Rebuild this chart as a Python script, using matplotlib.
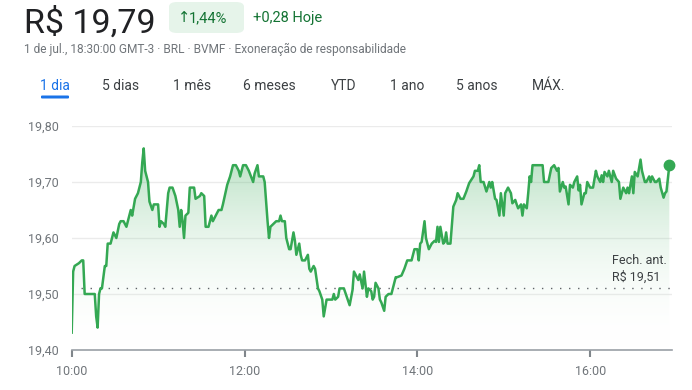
import matplotlib
matplotlib.use("Agg")
import matplotlib.pyplot as plt
import numpy as np
from matplotlib.colors import LinearSegmentedColormap

plt.rcParams['font.family'] = ['Roboto', 'DejaVu Sans']

# ---- data (minutes after 10:00, price in R$) ----
minutes = [0, 1, 2, 5, 7, 8, 9, 16, 17, 18, 19, 20, 21, 23, 24, 25, 27, 29, 31, 33, 34, 36, 38, 40, 41, 42,
           44, 46, 48, 49, 50, 51, 53, 54, 56, 57, 60, 61, 62, 64, 65, 67, 68, 70, 72, 74, 75, 76, 77, 78,
           79, 81, 82, 85, 86, 89, 90, 92, 93, 95, 97, 98, 100, 102, 104, 105, 108, 110, 112, 114, 116, 117,
           119, 121, 123, 126, 127, 129, 130, 133, 134, 136, 137, 138, 140, 142, 144, 145, 146, 148, 149,
           151, 152, 154, 155, 156, 158, 159, 160, 162, 164, 165, 166, 168, 169, 171, 172, 174, 175, 177,
           178, 181, 182, 183, 185, 186, 189, 191, 193,
           195, 196, 198, 199, 200, 202, 203, 205, 206, 208, 209, 210, 211, 213, 214, 215, 217, 218, 220,
           222, 223, 225, 226, 229, 231, 233, 236, 238, 240, 241, 242, 243, 245, 246, 248, 250, 252, 253,
           254, 255, 256, 258, 259, 260, 261, 263, 265, 267, 268, 270, 272, 274, 276, 279, 280, 282, 283,
           284, 286, 288, 290, 291, 292, 294, 295, 297, 298, 300, 301, 303, 305, 306, 308, 309, 310, 312,
           313, 314, 316, 317, 318, 319, 320, 327, 328, 331, 333, 335, 337, 338, 339, 341, 342, 343, 345,
           346, 348, 349, 351, 352, 353, 354, 356, 357, 358, 360, 362, 364, 365, 367, 368, 369, 370, 372,
           373, 375, 376, 378, 380, 381, 383, 385, 386, 387, 389, 390, 391, 393, 395, 396, 398, 399, 401,
           402, 403, 405, 406, 408, 409, 411, 412, 413, 415]
prices = [19.431, 19.54, 19.55, 19.555, 19.56, 19.56, 19.50, 19.50, 19.46, 19.44, 19.50, 19.51, 19.51, 19.55,
          19.55, 19.59, 19.59, 19.61, 19.60, 19.625, 19.63, 19.63, 19.62, 19.64, 19.65, 19.64,
          19.67, 19.68, 19.70, 19.735, 19.76, 19.72, 19.70, 19.665, 19.65, 19.66, 19.66, 19.62, 19.63,
          19.625, 19.62, 19.68, 19.69, 19.69, 19.675, 19.65, 19.62, 19.65, 19.63, 19.60,
          19.64, 19.645, 19.69, 19.69, 19.67, 19.675, 19.68, 19.675, 19.62, 19.62, 19.64, 19.63, 19.64,
          19.65, 19.65, 19.66, 19.695, 19.71, 19.73, 19.73, 19.72, 19.71,
          19.73, 19.73, 19.72, 19.70, 19.715, 19.73, 19.71, 19.71, 19.70, 19.63, 19.60, 19.62, 19.625,
          19.63, 19.63, 19.64, 19.63, 19.63, 19.60,
          19.58, 19.58, 19.61, 19.595, 19.57, 19.59, 19.57, 19.56, 19.56, 19.57, 19.545, 19.54, 19.55,
          19.545, 19.51, 19.505, 19.49, 19.46, 19.49,
          19.49, 19.49, 19.50, 19.49, 19.495, 19.51, 19.51, 19.495, 19.48,
          19.507, 19.54, 19.53, 19.525, 19.535, 19.51, 19.54, 19.495, 19.51, 19.505, 19.49, 19.495, 19.52,
          19.51, 19.49, 19.485, 19.47, 19.495, 19.50,
          19.50, 19.51, 19.53, 19.53, 19.533, 19.545, 19.56, 19.56, 19.58, 19.58, 19.56, 19.59, 19.593,
          19.63, 19.60, 19.58, 19.59, 19.595, 19.593,
          19.62, 19.593, 19.62, 19.59, 19.593, 19.61, 19.59, 19.59, 19.656, 19.668, 19.68, 19.67, 19.67,
          19.683, 19.698, 19.71, 19.72, 19.72, 19.73,
          19.70, 19.70, 19.683, 19.70, 19.69, 19.70, 19.67, 19.668, 19.64, 19.68, 19.64, 19.68, 19.69,
          19.68, 19.662, 19.668, 19.66, 19.653, 19.66,
          19.64, 19.66, 19.653, 19.68, 19.71, 19.70, 19.73, 19.73, 19.70, 19.70, 19.725, 19.73, 19.72,
          19.725, 19.683, 19.70, 19.69, 19.692, 19.66,
          19.695, 19.69, 19.70, 19.71, 19.685, 19.695, 19.66, 19.68, 19.68, 19.70, 19.69, 19.69, 19.72,
          19.71, 19.70, 19.712, 19.70, 19.718, 19.71,
          19.72, 19.70, 19.72, 19.706, 19.70, 19.67, 19.69, 19.68, 19.69, 19.68, 19.71, 19.68, 19.718,
          19.71, 19.74, 19.72, 19.70, 19.70, 19.71,
          19.70, 19.71, 19.70, 19.70, 19.706, 19.69, 19.672, 19.68, 19.683, 19.73]
prev_close = 19.51
y_ticks = [19.40, 19.50, 19.60, 19.70, 19.80]
y_tick_labels = ["19,40", "19,50", "19,60", "19,70", "19,80"]
x_ticks = [0, 120, 240, 360]
x_tick_labels = ["10:00", "12:00", "14:00", "16:00"]
tabs = ["1 dia", "5 dias", "1 mês", "6 meses", "YTD", "1 ano", "5 anos", "MÁX."]

W, H = 692, 390
fig = plt.figure(figsize=(W / 100, H / 100), dpi=100)
fig.patch.set_facecolor("white")

def fx(x):
    return x / W

def fy(y):
    return 1 - y / H

GREEN = "#34a853"
DARK_GREEN = "#137333"
GRAY = "#70757a"

# ---- header ----
fig.text(fx(24), fy(33), "R$ 19,79", fontsize=24.5, color="#202124", va="baseline", ha="left")
pill = matplotlib.patches.FancyBboxPatch((fx(169), fy(33)), fx(75), 31 / H,
                                         boxstyle="round,pad=0,rounding_size=0.012",
                                         transform=fig.transFigure, facecolor="#e6f4ea",
                                         edgecolor="none")
fig.add_artist(pill)
fig.text(fx(178), fy(18), "↑", fontsize=10.5, color=DARK_GREEN, va="center", ha="left",
         family=['DejaVu Sans'])
fig.text(fx(189), fy(18), "1,44%", fontsize=10.5, color=DARK_GREEN, va="center", ha="left")
fig.text(fx(253), fy(18), "+0,28 Hoje", fontsize=10.5, color=DARK_GREEN, va="center", ha="left")
fig.text(fx(24), fy(49), "1 de jul., 18:30:00 GMT-3 · BRL · BVMF · Exoneração de responsabilidade",
         fontsize=8.6, color=GRAY, va="center", ha="left")

tab_x = [40, 102, 173, 243, 331, 390, 456, 532]
for i, (t, x) in enumerate(zip(tabs, tab_x)):
    fig.text(fx(x), fy(86), t, fontsize=10, color="#1a73e8" if i == 0 else "#3c4043",
             va="center", ha="left")
fig.add_artist(matplotlib.patches.FancyBboxPatch((fx(41), fy(98.5)), fx(28), 3 / H,
                                                 boxstyle="round,pad=0,rounding_size=0.002",
                                                 transform=fig.transFigure,
                                                 facecolor="#1a73e8", edgecolor="none"))

# ---- chart ----
x0, x1 = 0, 416.5
ax = fig.add_axes([fx(71.7), fy(350), fx(671.5) - fx(71.7), (350 - 126) / H])
ax.set_xlim(x0, x1)
ax.set_ylim(19.40, 19.80)
for s in ["top", "right", "left"]:
    ax.spines[s].set_visible(False)
ax.spines["bottom"].set_color("#9aa0a6")
ax.spines["bottom"].set_linewidth(1.2)

ax.set_yticks(y_ticks)
ax.set_yticklabels(y_tick_labels)
ax.set_xticks(x_ticks)
ax.set_xticklabels(x_tick_labels)
ax.tick_params(axis="y", length=0, pad=9, labelsize=9, labelcolor=GRAY)
ax.tick_params(axis="x", length=5, width=1.5, color="#80868b", pad=6, labelsize=9, labelcolor=GRAY)
ax.grid(axis="y", color="#ebebeb", linewidth=1)
ax.set_axisbelow(True)

# gradient fill
poly = ax.fill_between(minutes, prices, 19.40, facecolor="none", edgecolor="none")
cmap = LinearSegmentedColormap.from_list("g", [(1, 1, 1, 0), (0.204, 0.659, 0.325, 0.36)])
grad = np.linspace(0, 1, 256).reshape(-1, 1)
im = ax.imshow(grad, extent=[x0, x1, 19.40, 19.76], origin="lower", aspect="auto", cmap=cmap,
               zorder=1, vmin=0, vmax=1)
im.set_clip_path(poly.get_paths()[0], transform=ax.transData)
ax.set_xlim(x0, x1)
ax.set_ylim(19.40, 19.80)

ax.axhline(prev_close, color="#5f6368", linewidth=1.0, linestyle=(0, (1, 5.5)), zorder=2)
ax.plot(minutes, prices, color=GREEN, linewidth=1.8, zorder=3, solid_joinstyle="round")
ax.plot([minutes[-1]], [prices[-1]], "o", color=GREEN, markersize=7.5, zorder=4, clip_on=False)

fig.text(fx(612), fy(261), "Fech. ant.", fontsize=9, color="#3c4043", va="center", ha="left")
fig.text(fx(612), fy(277), "R$ 19,51", fontsize=9, color="#3c4043", va="center", ha="left")

fig.savefig("out.png", dpi=100, facecolor="white")
